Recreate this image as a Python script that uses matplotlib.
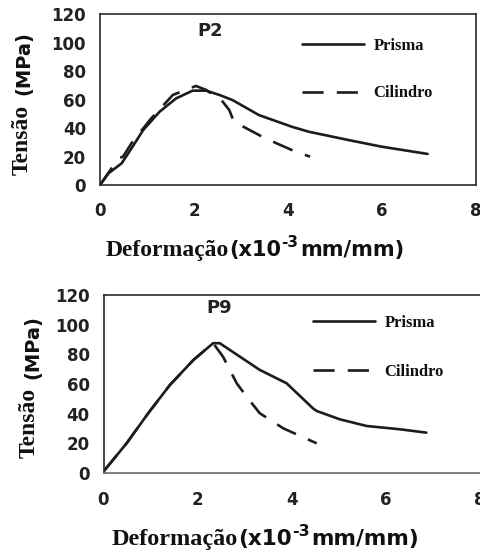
import matplotlib
matplotlib.use("Agg")
import matplotlib.pyplot as plt

# curvas tensão x deformação (deformação em 10^-3 mm/mm, tensão em MPa)
p2_prisma_x = [0, 0.18, 0.46, 0.67, 0.92, 1.27, 1.62, 1.97, 2.26, 2.54, 2.82, 3.38, 4.08, 4.44, 5.28, 5.99, 6.97]
p2_prisma_y = [0, 8.2, 15.2, 25.7, 38.6, 51.5, 60.8, 66.2, 66.2, 63.2, 59.6, 49.1, 40.9, 37.4, 31.6, 26.9, 21.8]
p2_cilindro_x = [0, 0.21, 0.39, 0.49, 0.67, 1.06, 1.55, 2.04, 2.26, 2.61, 2.75, 2.85, 3.52, 4.16, 4.47]
p2_cilindro_y = [0, 10, 18.7, 19.9, 29.3, 45.6, 63.2, 69.5, 66.7, 58.5, 52.6, 44.4, 32.7, 23.4, 19.9]

p9_prisma_x = [0, 0.49, 0.95, 1.41, 1.91, 2.33, 2.47, 3.32, 3.89, 4.45, 4.53, 5.02, 5.59, 6.29, 6.86]
p9_prisma_y = [1, 20, 40.3, 59.3, 76.2, 87.5, 87.5, 69.5, 60.5, 43.6, 41.8, 36.2, 31.7, 29.5, 27.2]
p9_cilindro_x = [0, 0.49, 0.95, 1.41, 1.91, 2.33, 2.54, 2.83, 3.04, 3.32, 3.82, 4.53]
p9_cilindro_y = [1, 20, 40.3, 59.3, 76.2, 87.5, 78.4, 60.5, 51.5, 40.3, 30.1, 20]

xticks = [0, 2, 4, 6, 8]
yticks = [0, 20, 40, 60, 80, 100, 120]

W, H = 481, 552
fig = plt.figure(figsize=(W / 100, H / 100), dpi=100)
fig.patch.set_facecolor("white")

serif = dict(family="Liberation Serif", weight="bold")
sans = dict(family="DejaVu Sans", weight="bold")
ink = "#1c1c1c"


def px_axes(left, top, right, bottom):
    return fig.add_axes([left / W, 1 - bottom / H, (right - left) / W, (bottom - top) / H])


def painel(ax, nome, px, py, cx, cy, anchor, spacing, xpad, ypad):
    ax.plot(px, py, color=ink, lw=1.9, label="Prisma", solid_capstyle="round")
    ax.plot(cx, cy, color=ink, lw=1.9, dashes=(8, 5), label="Cilindro")
    ax.set_xlim(0, 8)
    ax.set_ylim(0, 120)
    ax.set_xticks(xticks)
    ax.set_yticks(yticks)
    ax.tick_params(length=0)
    ax.tick_params(axis="x", pad=xpad)
    ax.tick_params(axis="y", pad=ypad)
    for lab in ax.get_xticklabels() + ax.get_yticklabels():
        lab.set_fontfamily("DejaVu Sans")
        lab.set_fontweight("bold")
        lab.set_fontsize(12)
        lab.set_color("#222222")
    for sp in ax.spines.values():
        sp.set_color("#2a2a2a")
        sp.set_linewidth(1.2)
    ax.text(*nome[1], nome[0], transform=ax.transAxes, ha="center", va="center",
            fontsize=13, color="#222222", **sans)
    leg = ax.legend(loc="upper left", bbox_to_anchor=anchor, frameon=False,
                    prop=dict(size=12, **serif), handlelength=3.7, handletextpad=0.6,
                    labelspacing=spacing, borderpad=0, borderaxespad=0)
    for t in leg.get_texts():
        t.set_color("#111111")


def rotulo_x(x, y, escala=1.0):
    renderer = fig.canvas.get_renderer()
    partes = [("Deformação", 17 * escala, serif, 0, 0),
              ("(x10", 15 * escala, sans, 0, 0),
              ("-3", 11 * escala, sans, 9 * escala, 2),
              ("mm/mm)", 15 * escala, sans, 0, 0)]
    cur = x
    for s, size, font, rise, gap in partes:
        t = fig.text(cur / W, 1 - (y - rise) / H, s, ha="left", va="baseline",
                     fontsize=size, color="#111111", **font)
        cur += t.get_window_extent(renderer).width + gap


def rotulo_y(x1, y1, x2, y2):
    fig.text(x1 / W, 1 - y1 / H, "Tensão", rotation=90, ha="center", va="center",
             fontsize=17, color="#111111", **serif)
    fig.text(x2 / W, 1 - y2 / H, "(MPa)", rotation=90, ha="center", va="center",
             fontsize=14, color="#111111", **sans)


# painel superior (P2)
ax1 = px_axes(100, 14, 476, 185)
painel(ax1, ("P2", (0.293, 0.90)), p2_prisma_x, p2_prisma_y, p2_cilindro_x, p2_cilindro_y,
       (0.537, 0.861), 1.9, 12, 10)
rotulo_x(106, 256)
rotulo_y(22, 140, 24, 63)

# painel inferior (P9)
ax2 = px_axes(103.5, 295, 480, 473)
painel(ax2, ("P9", (0.307, 0.927)), p9_prisma_x, p9_prisma_y, p9_cilindro_x, p9_cilindro_y,
       (0.556, 0.886), 1.95, 13, 10)
ax2.spines["right"].set_visible(False)
ax2.spines["bottom"].set_color("#6a6a6a")
ax2.spines["bottom"].set_linestyle((0, (3, 1)))
rotulo_x(112, 545, 1.03)
rotulo_y(29, 423, 33, 347)

fig.savefig("out.png", dpi=100, facecolor="white")
